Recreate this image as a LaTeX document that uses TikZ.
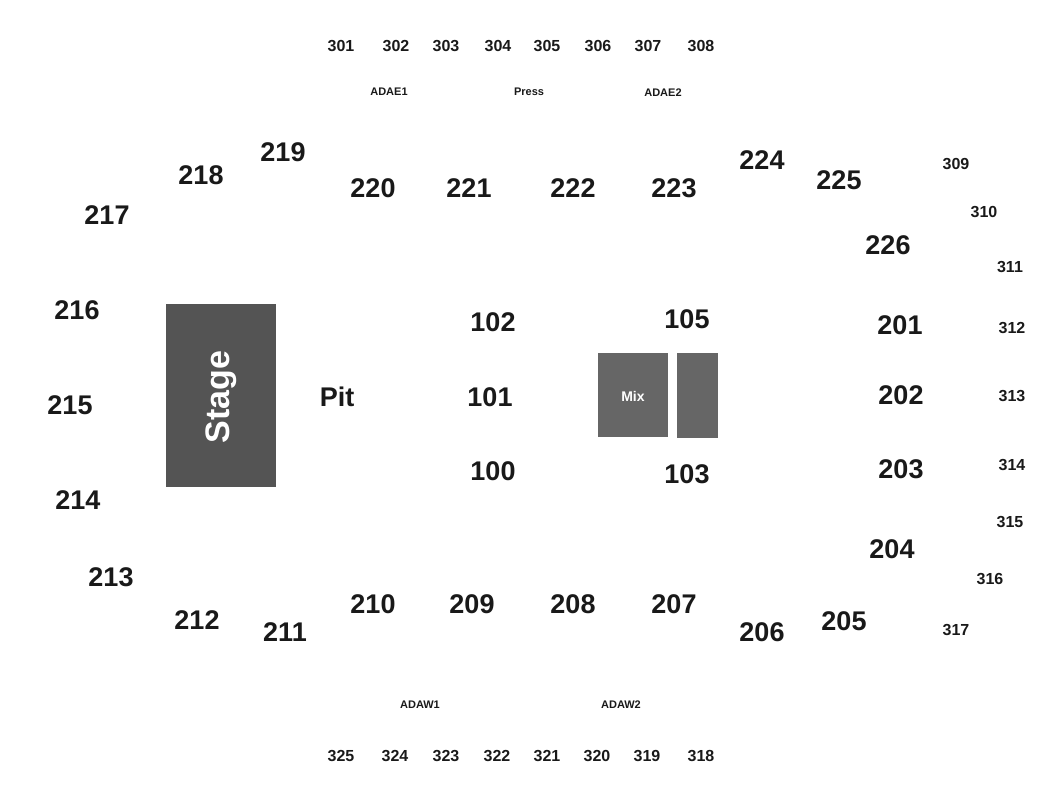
\documentclass[tikz,border=0pt]{standalone}
\usepackage{fontspec}
\setmainfont{Liberation Sans}
\begin{document}
\begin{tikzpicture}[x=1pt,y=-1pt,
 big/.style={font=\fontsize{27}{27}\selectfont\bfseries,text=black!90},
 mid/.style={font=\fontsize{16}{16}\selectfont\bfseries,text=black!90},
 sml/.style={font=\fontsize{11}{11}\selectfont\bfseries,text=black!90},
 blk/.style={fill=black!67,draw=none}]
\useasboundingbox (0,0) rectangle (1050,800);
\fill[blk,fill=black!67] (166,304) rectangle (276,487);
\node[font=\fontsize{34}{34}\selectfont\bfseries,text=white,rotate=90] (stage) at (221,397) {Stage};
\fill[fill=black!60] (598,353) rectangle (668,437);
\node[font=\fontsize{14}{14}\selectfont\bfseries,text=white] (mix) at (633,396) {Mix};
\fill[fill=black!60] (677,353) rectangle (718,438);
\node[big] (pit) at (337,397) {Pit};
% 300s top
\foreach \n/\x in {301/341,302/396,303/446,304/498,305/547,306/598,307/648,308/701}
  \node[mid] (s\n) at (\x,46) {\n};
\foreach \n/\x in {325/341,324/395,323/446,322/497,321/547,320/597,319/647,318/701}
  \node[mid] (s\n) at (\x,756) {\n};
\foreach \n/\x/\y in {309/956/164,310/984/212,311/1010/267,312/1012/328,313/1012/396,314/1012/465,315/1010/522,316/990/579,317/956/630}
  \node[mid] (s\n) at (\x,\y) {\n};
\node[sml] (adae1) at (389,92) {ADAE1};
\node[sml] (press) at (529,92) {Press};
\node[sml] (adae2) at (663,93) {ADAE2};
\node[sml] (adaw1) at (420,705) {ADAW1};
\node[sml] (adaw2) at (621,705) {ADAW2};
% 200s and 100s
\foreach \n/\x/\y in {218/201/175,219/283/152,220/373/188,221/469/188,222/573/188,223/674/188,224/762/160,225/839/180,226/888/245,217/107/215,216/77/310,215/70/405,214/78/500,213/111/577,212/197/620,211/285/632,210/373/604,209/472/604,208/573/604,207/674/604,206/762/632,205/844/621,204/892/549,203/901/469,202/901/395,201/900/325,102/493/322,101/490/397,100/493/471,105/687/319,103/687/474}
  \node[big] (s\n) at (\x,\y) {\n};
\end{tikzpicture}
\end{document}
